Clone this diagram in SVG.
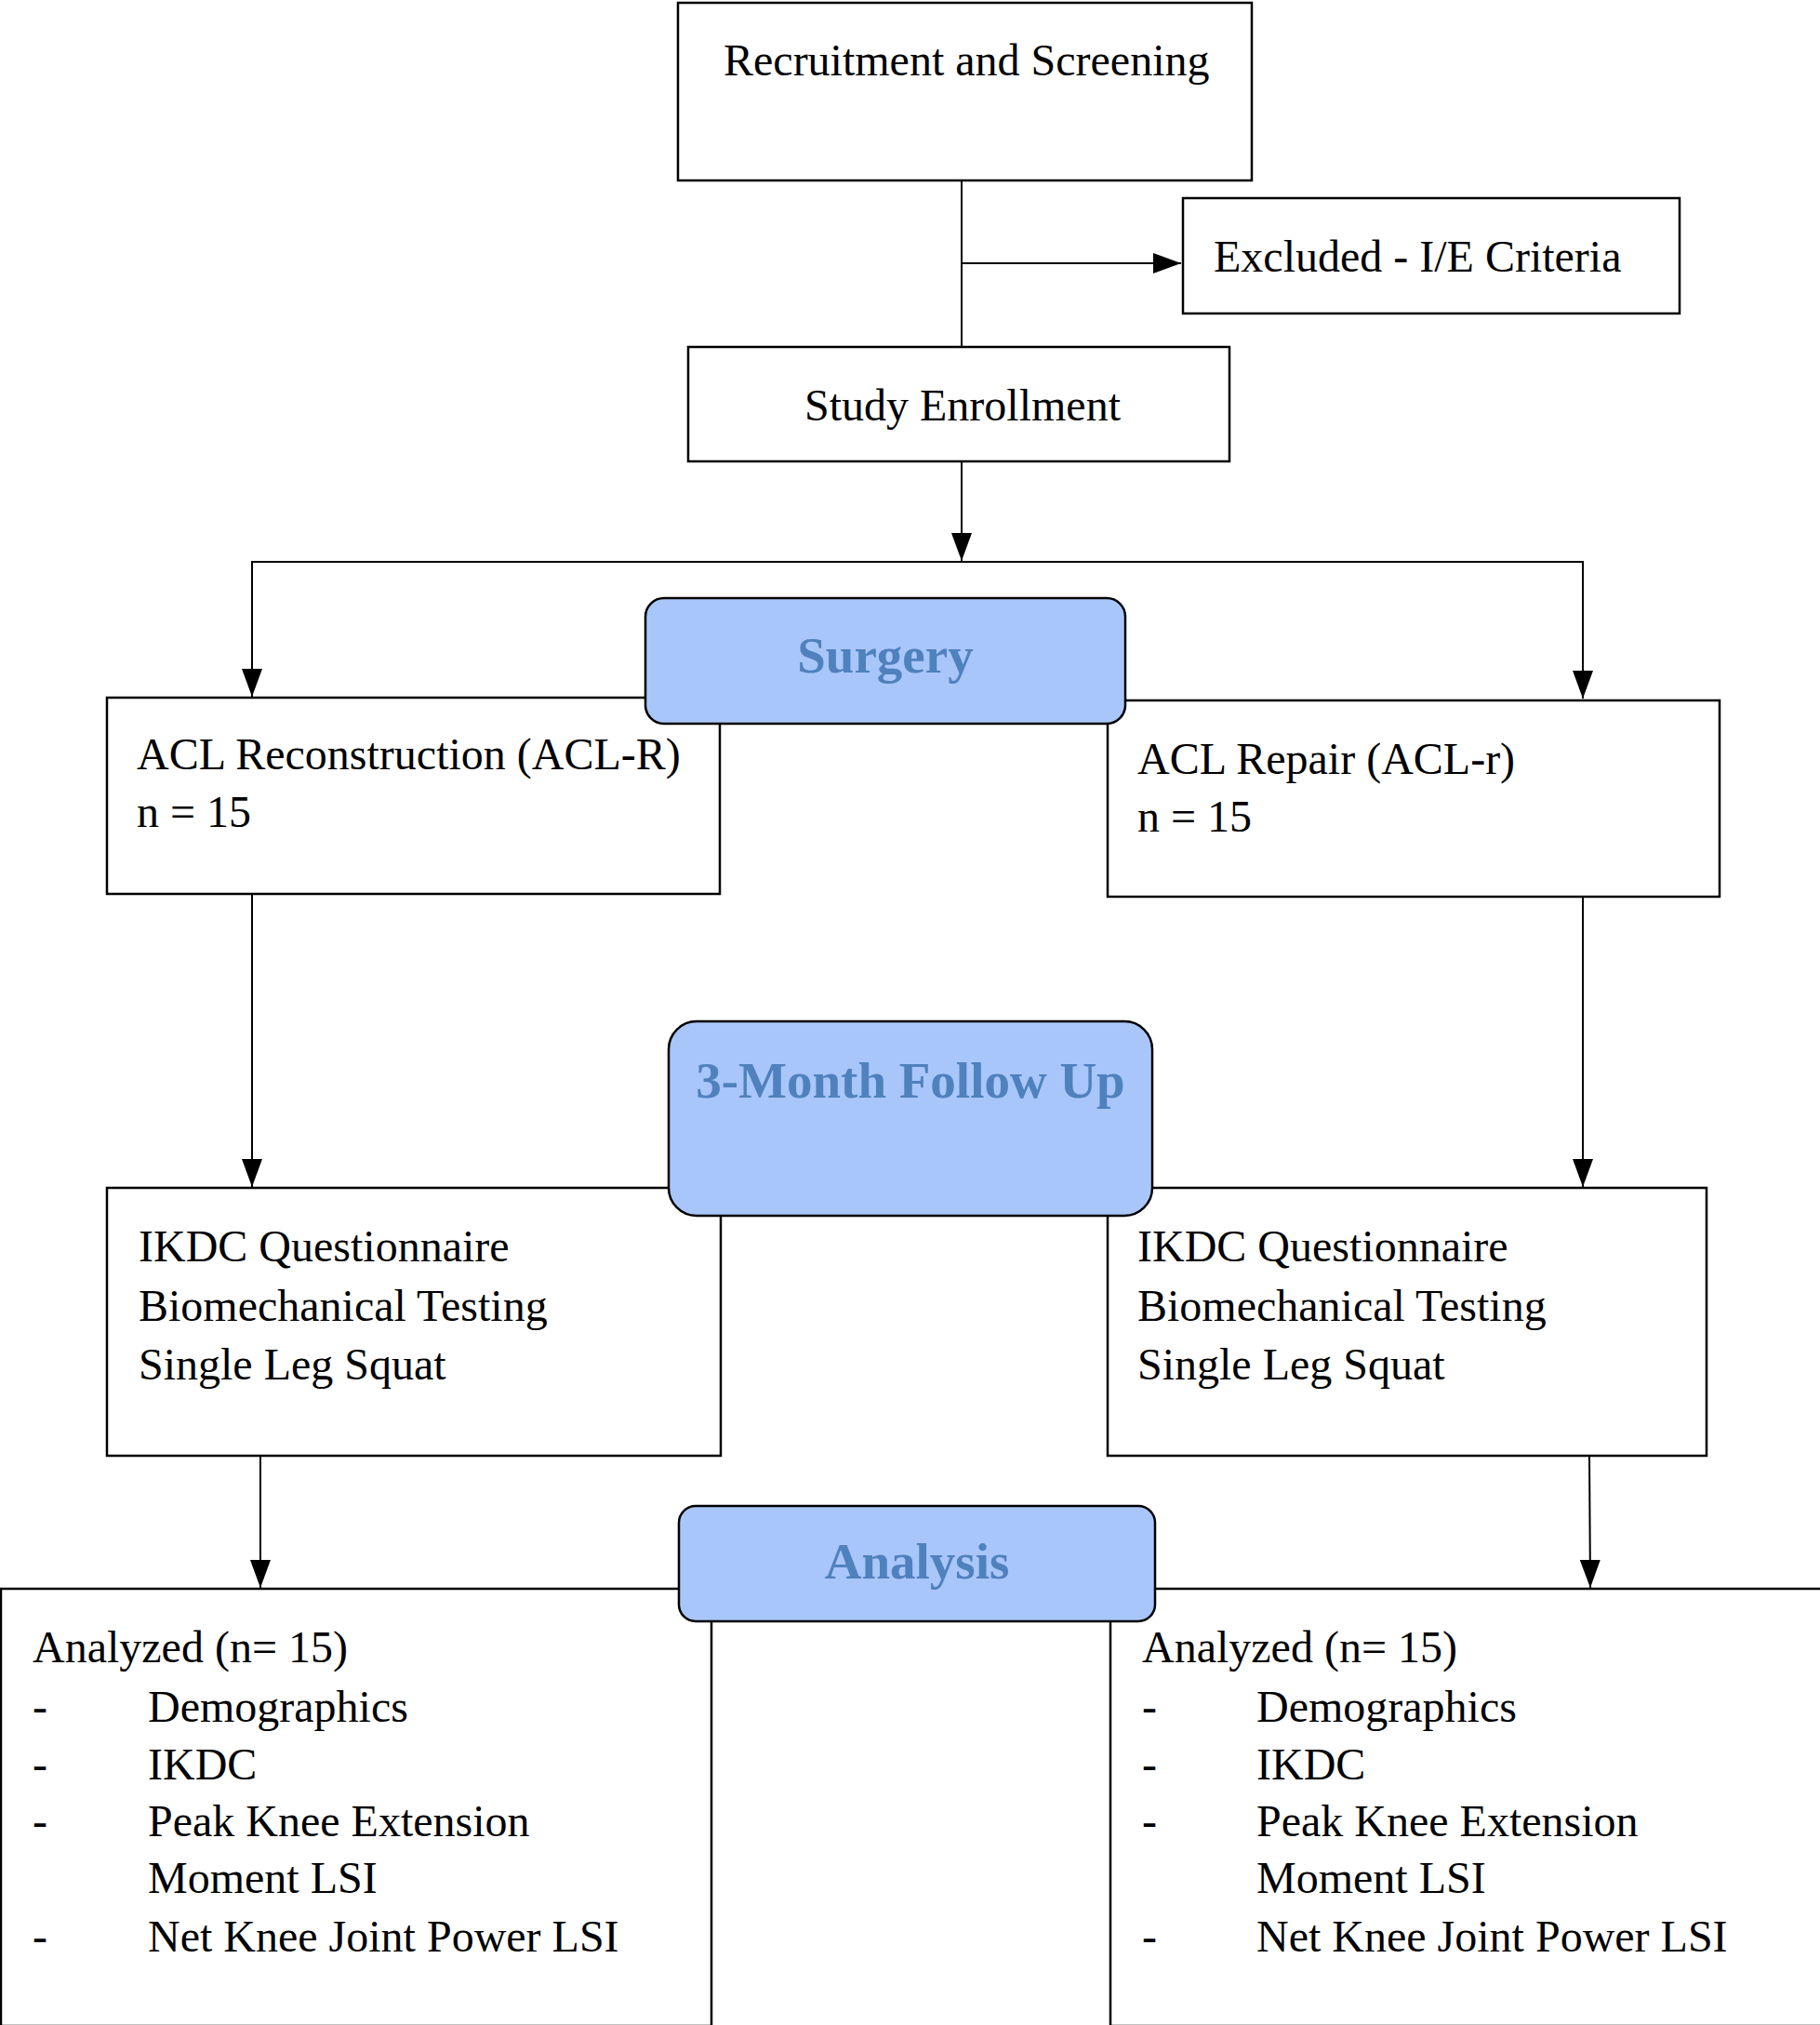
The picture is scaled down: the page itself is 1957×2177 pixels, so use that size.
<svg xmlns="http://www.w3.org/2000/svg" width="1957" height="2177" viewBox="0 0 1957 2177">
<defs>
<marker id="arr" markerUnits="userSpaceOnUse" markerWidth="30" markerHeight="22" refX="30" refY="11" orient="auto">
<path d="M0,0 L30,11 L0,22 z" fill="#000"/>
</marker>
<style>
.box{fill:#fff;stroke:#000;stroke-width:2.5}
.phase{fill:#A9C6FA;stroke:#000;stroke-width:2.5}
.t{font-family:"Liberation Serif","Times New Roman",serif;font-size:48px;fill:#000}
.h{font-family:"Liberation Serif","Times New Roman",serif;font-size:55px;font-weight:bold;fill:#4F81BD;text-anchor:middle}
.c{fill:none;stroke:#000;stroke-width:2}
.ca{fill:none;stroke:#000;stroke-width:2;marker-end:url(#arr)}
</style>
</defs>
<rect width="1957" height="2177" fill="#fff"/>
<g id="connectors">
<line class="c" x1="1034" y1="194" x2="1034" y2="372"/>
<line class="ca" x1="1034" y1="283" x2="1270" y2="283"/>
<line class="ca" x1="1034" y1="497" x2="1034" y2="603"/>
<polyline class="c" points="271,720 271,604 1702,604 1702,720"/>
<line class="ca" x1="271" y1="604" x2="271" y2="749"/>
<line class="ca" x1="1702" y1="604" x2="1702" y2="751"/>
<line class="ca" x1="271" y1="962" x2="271" y2="1276"/>
<line class="ca" x1="1702" y1="965" x2="1702" y2="1276"/>
<line class="ca" x1="280" y1="1565" x2="280" y2="1707"/>
<line class="ca" x1="1709" y1="1565" x2="1710" y2="1707"/>
</g>
<g id="recruitment">
<rect class="box" x="729" y="3" width="617" height="191"/>
<text class="t" x="778" y="81">Recruitment and Screening</text>
</g>
<g id="excluded">
<rect class="box" x="1272" y="213" width="534" height="124"/>
<text class="t" x="1305" y="292">Excluded - I/E Criteria</text>
</g>
<g id="enrollment">
<rect class="box" x="740" y="373" width="582" height="123"/>
<text class="t" x="865" y="452">Study Enrollment</text>
</g>
<g id="acl-reconstruction">
<rect class="box" x="115" y="750" width="659" height="211"/>
<text class="t" x="147" y="827">ACL Reconstruction (ACL-R)</text>
<text class="t" x="147" y="889">n = 15</text>
</g>
<g id="acl-repair">
<rect class="box" x="1191" y="753" width="658" height="211"/>
<text class="t" x="1223" y="832">ACL Repair (ACL-r)</text>
<text class="t" x="1223" y="894">n = 15</text>
</g>
<g id="surgery">
<rect class="phase" x="694" y="643" width="516" height="135" rx="20" ry="20"/>
<text class="h" x="952" y="723">Surgery</text>
</g>
<g id="followup-left">
<rect class="box" x="115" y="1277" width="660" height="288"/>
<text class="t" x="149" y="1356">IKDC Questionnaire</text>
<text class="t" x="149" y="1420">Biomechanical Testing</text>
<text class="t" x="149" y="1483">Single Leg Squat</text>
</g>
<g id="followup-right">
<rect class="box" x="1191" y="1277" width="644" height="288"/>
<text class="t" x="1223" y="1356">IKDC Questionnaire</text>
<text class="t" x="1223" y="1420">Biomechanical Testing</text>
<text class="t" x="1223" y="1483">Single Leg Squat</text>
</g>
<g id="three-month">
<rect class="phase" x="719" y="1098" width="520" height="209" rx="30" ry="30"/>
<text class="h" x="979" y="1180">3-Month Follow Up</text>
</g>
<g id="analyzed-left">
<rect class="box" x="1" y="1708" width="764" height="470"/>
<text class="t" x="35" y="1787">Analyzed (n= 15)</text>
<text class="t" x="35" y="1851">-</text><text class="t" x="159" y="1851">Demographics</text>
<text class="t" x="35" y="1913">-</text><text class="t" x="159" y="1913">IKDC</text>
<text class="t" x="35" y="1974">-</text><text class="t" x="159" y="1974">Peak Knee Extension</text>
<text class="t" x="159" y="2035">Moment LSI</text>
<text class="t" x="35" y="2098">-</text><text class="t" x="159" y="2098">Net Knee Joint Power LSI</text>
</g>
<g id="analyzed-right">
<rect class="box" x="1194" y="1708" width="770" height="470"/>
<text class="t" x="1228" y="1787">Analyzed (n= 15)</text>
<text class="t" x="1228" y="1851">-</text><text class="t" x="1351" y="1851">Demographics</text>
<text class="t" x="1228" y="1913">-</text><text class="t" x="1351" y="1913">IKDC</text>
<text class="t" x="1228" y="1974">-</text><text class="t" x="1351" y="1974">Peak Knee Extension</text>
<text class="t" x="1351" y="2035">Moment LSI</text>
<text class="t" x="1228" y="2098">-</text><text class="t" x="1351" y="2098">Net Knee Joint Power LSI</text>
</g>
<g id="analysis">
<rect class="phase" x="730" y="1619" width="512" height="124" rx="18" ry="18"/>
<text class="h" x="986" y="1697">Analysis</text>
</g>
</svg>
